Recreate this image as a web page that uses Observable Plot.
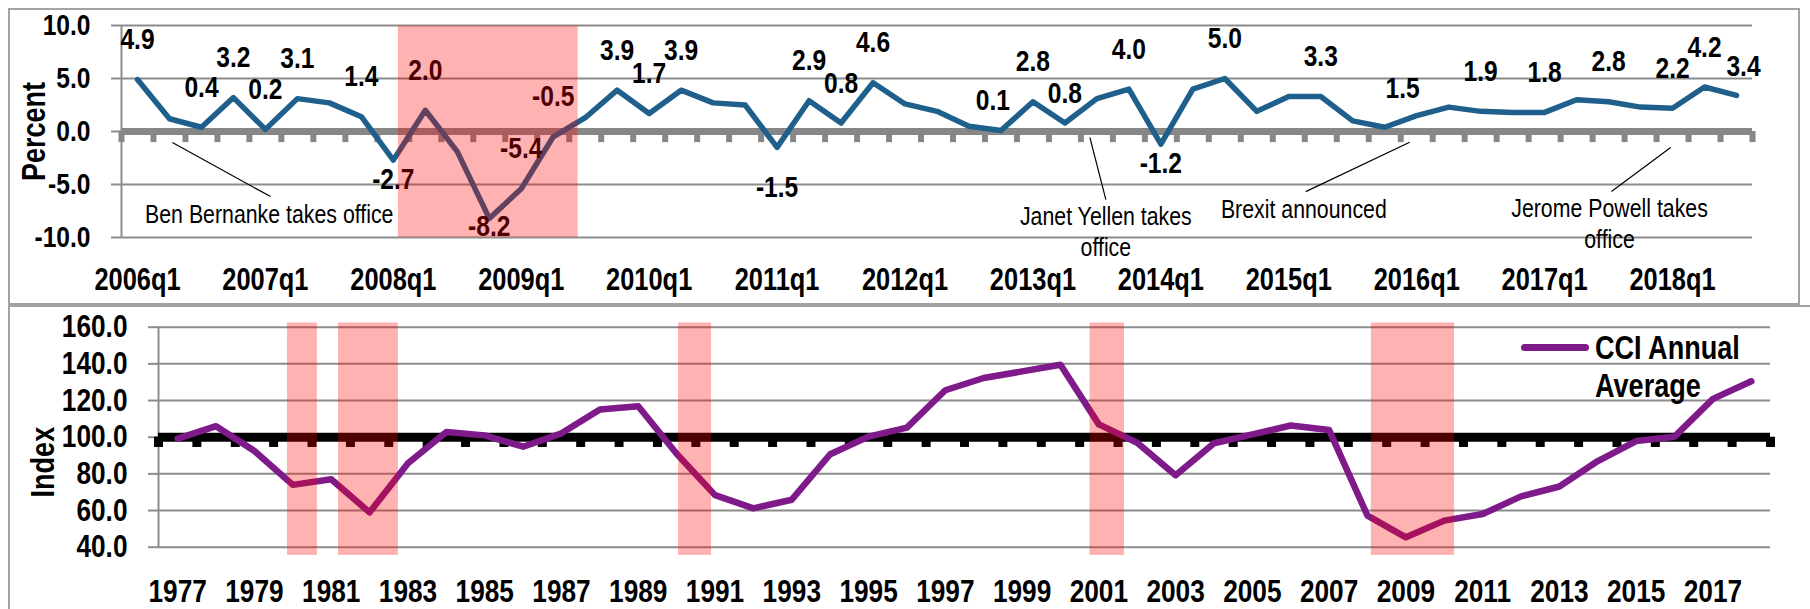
<!DOCTYPE html>
<html><head><meta charset="utf-8">
<script src="https://cdn.jsdelivr.net/npm/d3@7"></script>
<script src="https://cdn.jsdelivr.net/npm/@observablehq/plot@0.6"></script>
<style>
html,body{margin:0;padding:0;background:#fff;}
#wrap{position:relative;width:1810px;height:609px;overflow:hidden;}
.box{position:absolute;border:2px solid #a3a3a3;box-sizing:border-box;}
.chart{position:absolute;left:0;}
#legendSwatch{position:absolute;left:1521px;top:344px;width:68px;height:7px;background:#7F1A8A;border-radius:4px;}
#legendText{position:absolute;left:1595px;top:329px;width:200px;font-weight:bold;font-size:33px;line-height:37.7px;color:#000;transform:scaleX(0.82);transform-origin:0 0;}
</style></head>
<body>
<div id="wrap">
  <div class="box" style="left:8px;top:8px;width:1792px;height:297px"></div>
  <div class="box" style="left:8px;top:305px;width:1900px;height:400px"></div>
  <div id="top" class="chart" style="top:0"></div>
  <div id="bottom" class="chart" style="top:305px"></div>
  <div id="legendSwatch"></div>
  <div id="legendText"></div>
</div>
<script>
// ---------- DATA ----------
// Quarterly real GDP growth (percent), 2006q1 .. 2018q3
const quarters = d3.range(2006, 2019).flatMap(y => [1, 2, 3, 4].map(q => `${y}q${q}`)).slice(0, 51);
const gdpValues = [4.9, 1.2, 0.4, 3.2, 0.2, 3.1, 2.7, 1.4, -2.7, 2.0, -1.9, -8.2, -5.4, -0.5, 1.3, 3.9,
  1.7, 3.9, 2.7, 2.5, -1.5, 2.9, 0.8, 4.6, 2.6, 1.9, 0.5, 0.1, 2.8, 0.8, 3.1, 4.0, -1.2, 4.0, 5.0, 1.9,
  3.3, 3.3, 1.0, 0.4, 1.5, 2.3, 1.9, 1.8, 1.8, 3.0, 2.8, 2.3, 2.2, 4.2, 3.4];
const quarterTickLabels = ["2006q1", "2007q1", "2008q1", "2009q1", "2010q1", "2011q1", "2012q1",
  "2013q1", "2014q1", "2015q1", "2016q1", "2017q1", "2018q1"];
const percentTicks = [-10, -5, 0, 5, 10];
// labelled quarters and where their label sits
const gdpLabels = [
  ["2006q1", "above"], ["2006q3", "above"], ["2006q4", "above"], ["2007q1", "above"], ["2007q2", "above"],
  ["2007q4", "above"], ["2008q1", "below"], ["2008q2", "above"], ["2008q4", "trough"], ["2009q1", "above"],
  ["2009q2", "above"], ["2009q4", "above"], ["2010q1", "above"], ["2010q2", "above"], ["2011q1", "far"],
  ["2011q2", "above"], ["2011q3", "above"], ["2011q4", "above"], ["2012q4", "nearL"], ["2013q1", "above"],
  ["2013q2", "near"], ["2013q4", "above"], ["2014q1", "below"], ["2014q3", "above"], ["2015q2", "above"],
  ["2016q1", "nearLL"], ["2016q3", "above"], ["2017q1", "above"], ["2017q3", "above"], ["2018q1", "above"],
  ["2018q2", "above"], ["2018q3", "nearR"]
];
// recession band, in quarter-index units
const recessionTop = [{from: 8.16, to: 13.78}];
// event annotations (quarter-index / percent units)
const events = [
  {text: "Ben Bernanke takes office", x: 4.12, y: -7.68, ax: 1.09, ay: -1.03, bx: 4.16, by: -6.14},
  {text: "Janet Yellen takes\noffice", x: 30.28, y: -9.32, ax: 29.78, ay: -0.55, bx: 30.28, by: -6.43},
  {text: "Brexit announced", x: 36.47, y: -7.18, ax: 39.78, ay: -1.02, bx: 36.53, by: -5.67},
  {text: "Jerome Powell takes\noffice", x: 46.03, y: -8.61, ax: 47.94, ay: -1.5, bx: 46.09, by: -5.67}
];

// Consumer confidence index, annual average 1977 .. 2018
const cciYears = d3.range(1977, 2019);
const cciValues = [99.2, 106.0, 92.5, 74.0, 77.1, 59.0, 85.8, 102.8, 101.0, 94.8, 102.1, 115.1, 116.9,
  91.0, 68.4, 61.2, 65.9, 90.7, 100.3, 105.2, 125.6, 132.3, 135.9, 139.5, 107.0, 97.0, 79.3, 96.7,
  101.5, 106.4, 103.9, 57.2, 45.4, 54.5, 58.1, 67.7, 73.1, 87.0, 97.9, 100.3, 120.9, 130.5];
const yearTickLabels = [1977, 1979, 1981, 1983, 1985, 1987, 1989, 1991, 1993, 1995, 1997, 1999, 2001,
  2003, 2005, 2007, 2009, 2011, 2013, 2015, 2017];
const indexTicks = [40, 60, 80, 100, 120, 140, 160];
const recessionsCCI = [
  {from: 1979.86, to: 1980.64}, {from: 1981.19, to: 1982.75}, {from: 1990.05, to: 1990.91},
  {from: 2000.77, to: 2001.67}, {from: 2008.1, to: 2010.27}
];
const seriesName = "CCI Annual Average";

// ---------- STYLE ----------
const FONT = "'Liberation Sans Narrow','Arial Narrow','Liberation Sans',Arial,sans-serif";
const CONDENSE = 0.82; // Arial Narrow look from Arial metrics
const GRID = "#8c8c8c";
const BLUE = "#1F5F8B";
const PURPLE = "#7F1A8A";
document.getElementById("wrap").style.fontFamily = FONT;

const placements = {
  above: {dy: -40, dx: 0}, near: {dy: -30, dx: 0}, nearL: {dy: -30, dx: -8}, nearLL: {dy: -27, dx: -14},
  nearR: {dy: -29, dx: 7}, below: {dy: 19, dx: 0}, far: {dy: 40, dx: 0}, trough: {dy: 8, dx: 0}
};

function condense(svg, s) {
  svg.querySelectorAll("text").forEach(t => {
    const b = t.getBBox();
    const a = getComputedStyle(t).textAnchor;
    const ax = a === "middle" ? b.x + b.width / 2 : a === "end" ? b.x + b.width : b.x;
    const tr = t.getAttribute("transform") || "";
    t.setAttribute("transform", `${tr} translate(${ax},0) scale(${s},1) translate(${-ax},0)`);
  });
}

// ---------- TOP CHART ----------
const gdp = gdpValues.map((v, i) => ({i, q: quarters[i], v}));
const labelRows = gdpLabels.map(([q, p]) => ({...gdp[quarters.indexOf(q)], p}));
const labelMarks = d3.groups(labelRows, d => d.p).map(([p, rows]) =>
  Plot.text(rows, {x: "i", y: "v", text: d => d.v.toFixed(1), dx: placements[p].dx, dy: placements[p].dy,
    fontSize: 30, fontWeight: "bold", fill: "#000"}));
const boundariesTop = d3.range(-0.5, quarters.length + 0.5, 1);

const topChart = Plot.plot({
  width: 1810, height: 305,
  marginLeft: 121, marginRight: 58, marginTop: 25, marginBottom: 68,
  style: {fontFamily: FONT, background: "none", overflow: "visible"},
  x: {domain: [-0.5, quarters.length - 0.5], axis: null},
  y: {domain: [-10, 10], axis: null},
  marks: [
    Plot.gridY(percentTicks, {stroke: GRID, strokeOpacity: 1, strokeWidth: 2}),
    Plot.axisY({ticks: percentTicks, tickFormat: d => d.toFixed(1), tickSize: 10, tickPadding: 21,
      fontSize: 30, fontWeight: "bold", stroke: GRID, strokeWidth: 2, label: null}),
    Plot.ruleX([-0.5], {y1: -10, y2: 10, stroke: GRID, strokeWidth: 2}),
    Plot.ruleY([0], {stroke: "#878787", strokeWidth: 7}),
    Plot.ruleX(boundariesTop, {y1: 0, y2: -1.05, stroke: "#878787", strokeWidth: 6}),
    Plot.line(gdp, {x: "i", y: "v", stroke: BLUE, strokeWidth: 5.5, strokeLinejoin: "round", strokeLinecap: "round"}),
    ...labelMarks,
    Plot.link(events, {x1: "ax", y1: "ay", x2: "bx", y2: "by", stroke: "#000", strokeWidth: 1.2}),
    Plot.text(events, {x: "x", y: "y", text: "text", fontSize: 26, lineHeight: 1.2, fill: "#000"}),
    Plot.rect(recessionTop, {x1: "from", x2: "to", y1: -10, y2: 9.95, fill: "#ff0000", fillOpacity: 0.3}),
    Plot.axisX({ticks: quarterTickLabels.map(q => quarters.indexOf(q)), tickFormat: i => quarters[i],
      tickSize: 0, tickPadding: 30, fontSize: 31, fontWeight: "bold", label: null}),
    Plot.text(["Percent"], {frameAnchor: "left", textAnchor: "middle", dx: -87, rotate: -90,
      fontSize: 33, fontWeight: "bold", fill: "#000"})
  ]
});
document.getElementById("top").appendChild(topChart);
condense(topChart, CONDENSE);

// ---------- BOTTOM CHART ----------
const cci = cciValues.map((v, i) => ({year: cciYears[i], v}));
const boundariesBottom = d3.range(cciYears[0] - 0.5, cciYears[cciYears.length - 1] + 1, 1);
const bottomChart = Plot.plot({
  width: 1810, height: 304,
  marginLeft: 158, marginRight: 40, marginTop: 21.7, marginBottom: 62.3,
  style: {fontFamily: FONT, background: "none", overflow: "visible"},
  x: {domain: [cciYears[0] - 0.5, cciYears[cciYears.length - 1] + 0.5], axis: null},
  y: {domain: [40, 160], axis: null},
  marks: [
    Plot.gridY(indexTicks, {stroke: GRID, strokeOpacity: 1, strokeWidth: 2}),
    Plot.axisY({ticks: indexTicks, tickFormat: d => d.toFixed(1), tickSize: 10, tickPadding: 21,
      fontSize: 32, fontWeight: "bold", stroke: GRID, strokeWidth: 2, label: null}),
    Plot.ruleX([cciYears[0] - 0.5], {y1: 40, y2: 160, stroke: GRID, strokeWidth: 2}),
    Plot.ruleY([100], {stroke: "#000", strokeWidth: 9}),
    Plot.ruleX(boundariesBottom, {y1: 100, y2: 94.4, stroke: "#000", strokeWidth: 9}),
    Plot.line(cci, {x: "year", y: "v", stroke: PURPLE, strokeWidth: 6.5, strokeLinejoin: "round", strokeLinecap: "round"}),
    Plot.rect(recessionsCCI, {x1: "from", x2: "to", y1: 35.5, y2: 162.3, fill: "#ff0000", fillOpacity: 0.3}),
    Plot.axisX({ticks: yearTickLabels, tickFormat: d => String(d), tickSize: 0, tickPadding: 31.6,
      fontSize: 32, fontWeight: "bold", label: null}),
    Plot.text(["Index"], {frameAnchor: "left", textAnchor: "middle", dx: -115, dy: 25, rotate: -90,
      fontSize: 33, fontWeight: "bold", fill: "#000"})
  ]
});
document.getElementById("bottom").appendChild(bottomChart);
condense(bottomChart, CONDENSE);

document.getElementById("legendText").textContent = seriesName;
</script>
</body></html>
